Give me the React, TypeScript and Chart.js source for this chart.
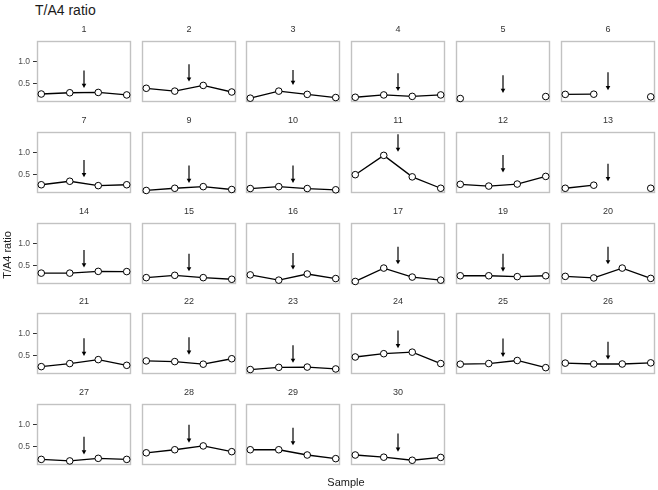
import React, { useEffect, useRef } from "react";
import { Chart, registerables } from "chart.js";

Chart.register(...registerables);

// ---------- data ----------
const panelLabels = [
  "1", "2", "3", "4", "5", "6",
  "7", "9", "10", "11", "12", "13",
  "14", "15", "16", "17", "19", "20",
  "21", "22", "23", "24", "25", "26",
  "27", "28", "29", "30",
];

const sampleIndex = [1, 2, 3, 4];

const ratioValues: (number | null)[][] = [
  [0.254, 0.283, 0.29, 0.233],
  [0.385, 0.32, 0.45, 0.3],
  [0.159, 0.32, 0.246, 0.174],
  [0.18, 0.233, 0.2, 0.233],
  [0.152, null, null, 0.196],
  [0.246, 0.25, null, 0.19],
  [0.26, 0.34, 0.24, 0.26],
  [0.13, 0.18, 0.217, 0.152],
  [0.174, 0.217, 0.174, 0.145],
  [0.49, 0.93, 0.44, 0.18],
  [0.27, 0.23, 0.276, 0.45],
  [0.18, 0.25, null, 0.18],
  [0.32, 0.32, 0.36, 0.355],
  [0.217, 0.27, 0.217, 0.18],
  [0.28, 0.16, 0.3, 0.196],
  [0.13, 0.435, 0.23, 0.16],
  [0.26, 0.26, 0.24, 0.26],
  [0.246, 0.21, 0.435, 0.2],
  [0.24, 0.31, 0.4, 0.27],
  [0.37, 0.355, 0.296, 0.42],
  [0.174, 0.224, 0.23, 0.187],
  [0.46, 0.535, 0.57, 0.31],
  [0.296, 0.31, 0.38, 0.217],
  [0.32, 0.3, 0.3, 0.326],
  [0.2, 0.165, 0.224, 0.2],
  [0.35, 0.42, 0.507, 0.376],
  [0.42, 0.42, 0.3, 0.217],
  [0.3, 0.25, 0.18, 0.245],
];

const arrowStart = [
  0.79, 0.935, 0.8, 0.73, 0.68, 0.75,
  0.826, 0.7, 0.7, 1.41, 0.94, 0.74,
  0.85, 0.76, 0.78, 0.92, 0.76, 0.92,
  0.89, 0.91, 0.73, 1.065, 0.88, 0.81,
  0.717, 0.99, 0.92, 0.79,
];
const arrowEnd = [
  0.39, 0.537, 0.46, 0.32, 0.28, 0.34,
  0.43, 0.3, 0.3, 1.01, 0.54, 0.34,
  0.45, 0.36, 0.4, 0.52, 0.35, 0.52,
  0.485, 0.51, 0.326, 0.66, 0.46, 0.4,
  0.31, 0.58, 0.52, 0.376,
];
const arrowSample = 2.5;

const yTickValues = [0.5, 1.0];
const yMin = 0.072;
const yMax = 1.463;
const xMin = 0.85;
const xMax = 4.15;

// ---------- layout ----------
const FONT = "'Liberation Sans', Arial, Helvetica, sans-serif";
const COLS = 6;
const PANEL_W = 97;
const PANEL_H = 64;
const AXIS_W = 36;
const STRIP_H = 22;
const PAD = 2;
const colLeft = (c: number) => Math.round(36.7 + c * 104.8);
const rowTop = (r: number) => Math.round(40.7 + r * 90.9);

function makePanelPlugin(index: number) {
  return {
    id: "panelDecor" + index,
    beforeDatasetsDraw(chart: any) {
      const { ctx, chartArea } = chart;
      ctx.save();
      ctx.strokeStyle = "#c2c2c2";
      ctx.lineWidth = 1.4;
      ctx.strokeRect(
        chartArea.left + 0.5,
        chartArea.top + 0.5,
        chartArea.right - chartArea.left - 1,
        chartArea.bottom - chartArea.top - 1
      );
      ctx.restore();
    },
    afterDatasetsDraw(chart: any) {
      const { ctx } = chart;
      const xs = chart.scales.x;
      const ys = chart.scales.y;
      const x = xs.getPixelForValue(arrowSample);
      const y1 = ys.getPixelForValue(arrowStart[index]);
      const y2 = ys.getPixelForValue(arrowEnd[index]);
      const head = 4.2;
      const half = 2.3;
      ctx.save();
      ctx.strokeStyle = "#000";
      ctx.fillStyle = "#000";
      ctx.lineWidth = 1.2;
      ctx.beginPath();
      ctx.moveTo(x, y1);
      ctx.lineTo(x, y2 - head + 0.5);
      ctx.stroke();
      ctx.beginPath();
      ctx.moveTo(x - half, y2 - head);
      ctx.lineTo(x + half, y2 - head);
      ctx.lineTo(x, y2);
      ctx.closePath();
      ctx.fill();
      ctx.restore();
    },
  };
}

function Panel({ index }: { index: number }) {
  const ref = useRef<HTMLCanvasElement | null>(null);
  const col = index % COLS;
  const row = Math.floor(index / COLS);
  const showY = col === 0;

  useEffect(() => {
    if (!ref.current) return;
    const chart = new Chart(ref.current, {
      type: "line",
      data: {
        datasets: [
          {
            data: sampleIndex.map((x, i) => ({ x, y: ratioValues[index][i] })) as any,
            borderColor: "#000",
            borderWidth: 1.3,
            pointRadius: 3.3,
            pointBackgroundColor: "#fff",
            pointBorderColor: "#000",
            pointBorderWidth: 1,
            spanGaps: false,
            tension: 0,
            clip: false as any,
          },
        ],
      },
      options: {
        animation: false,
        responsive: false,
        maintainAspectRatio: false,
        events: [],
        layout: {
          padding: { left: 0, right: PAD, bottom: PAD, top: 0 },
        },
        plugins: {
          legend: { display: false },
          tooltip: { enabled: false },
          title: {
            display: true,
            fullSize: false,
            text: panelLabels[index],
            color: "#333",
            font: { family: FONT, size: 9, weight: "normal" as any, lineHeight: 1.2 },
            padding: { top: 5.6, bottom: 5.6 },
          },
        },
        scales: {
          x: { type: "linear", display: false, min: xMin, max: xMax },
          y: {
            type: "linear",
            display: showY,
            min: yMin,
            max: yMax,
            afterBuildTicks: (s: any) => {
              s.ticks = yTickValues.map((v) => ({ value: v }));
            },
            afterFit: (s: any) => {
              s.width = AXIS_W;
              s.paddingTop = 0;
              s.paddingBottom = 0;
            },
            ticks: {
              callback: (v: any) => Number(v).toFixed(1),
              color: "#4d4d4d",
              font: { family: FONT, size: 8.5 },
              padding: 3,
            },
            grid: {
              display: true,
              drawOnChartArea: false,
              drawTicks: true,
              tickLength: 4,
              color: "#333",
              lineWidth: 1,
            },
            border: { display: false },
          },
        },
      } as any,
      plugins: [makePanelPlugin(index)],
    });
    return () => chart.destroy();
  }, [index]);

  const w = AXIS_W + PANEL_W + PAD;
  const h = STRIP_H + PANEL_H + PAD;
  return (
    <canvas
      ref={ref}
      width={w}
      height={h}
      style={{
        position: "absolute",
        left: colLeft(col) - AXIS_W,
        top: rowTop(row) - STRIP_H,
        width: w,
        height: h,
      }}
    />
  );
}

export default function App() {
  return (
    <div
      style={{
        position: "absolute",
        left: 0,
        top: 0,
        width: 658,
        height: 490,
        background: "#fff",
        overflow: "hidden",
        fontFamily: FONT,
      }}
    >
      <div
        style={{
          position: "absolute",
          left: 35,
          top: 3,
          fontSize: 14,
          lineHeight: "14px",
          color: "#1a1a1a",
          whiteSpace: "nowrap",
        }}
      >
        T/A4 ratio
      </div>
      {panelLabels.map((_, i) => (
        <Panel key={i} index={i} />
      ))}
      <div
        style={{
          position: "absolute",
          left: 7,
          top: 255,
          fontSize: 11,
          lineHeight: "11px",
          color: "#1a1a1a",
          whiteSpace: "nowrap",
          transform: "translate(-50%, -50%) rotate(-90deg)",
        }}
      >
        T/A4 ratio
      </div>
      <div
        style={{
          position: "absolute",
          left: 346,
          top: 482,
          fontSize: 11,
          lineHeight: "11px",
          color: "#1a1a1a",
          whiteSpace: "nowrap",
          transform: "translate(-50%, -50%)",
        }}
      >
        Sample
      </div>
    </div>
  );
}
